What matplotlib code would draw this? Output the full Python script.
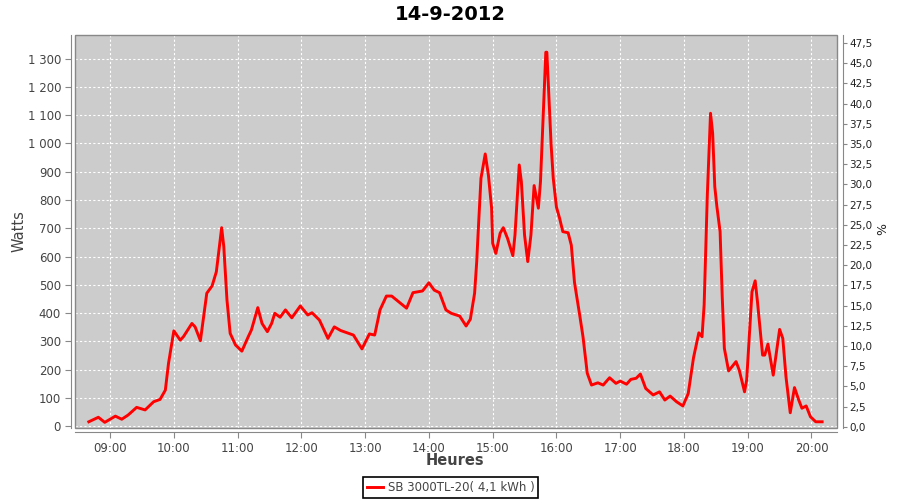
#Production journaliere onduleur SB 3000TL-20

import matplotlib
matplotlib.use("Agg")
import matplotlib.pyplot as plt
import matplotlib.dates as mdates
from matplotlib.ticker import FuncFormatter, MultipleLocator
from matplotlib.patches import Rectangle
import pandas as pd

#Donnees

jour = "2012-09-14"
titre = "14-9-2012"
serie = "SB 3000TL-20( 4,1 kWh )"

heures = ["08:40", "08:49", "08:55", "09:05", "09:11", "09:17", "09:25", "09:33",
          "09:41", "09:47", "09:52", "09:55", "10:00", "10:06", "10:09", "10:17",
          "10:20", "10:25", "10:31", "10:36", "10:40", "10:45", "10:47", "10:50",
          "10:53", "10:58", "11:04", "11:10", "11:13", "11:19", "11:23", "11:28",
          "11:32", "11:35", "11:40", "11:45", "11:51", "11:59", "12:06", "12:10",
          "12:17", "12:25", "12:31", "12:37", "12:49", "12:57", "13:04", "13:09",
          "13:14", "13:20", "13:25", "13:39", "13:45", "13:54", "14:00", "14:05",
          "14:10", "14:16", "14:21", "14:29", "14:35", "14:39", "14:43", "14:45",
          "14:46", "14:49", "14:53", "14:56", "14:59", "15:00", "15:03", "15:07",
          "15:10", "15:14", "15:19", "15:21", "15:25", "15:27", "15:30", "15:33",
          "15:36", "15:39", "15:43", "15:45", "15:50", "15:51", "15:55", "15:57",
          "16:00", "16:03", "16:06", "16:11", "16:14", "16:17", "16:22", "16:25",
          "16:29", "16:33", "16:39", "16:44", "16:50", "16:56", "17:00", "17:06",
          "17:10", "17:15", "17:19", "17:24", "17:31", "17:37", "17:42", "17:47",
          "17:53", "17:59", "18:04", "18:09", "18:14", "18:17", "18:19", "18:22",
          "18:25", "18:27", "18:29", "18:31", "18:34", "18:36", "18:38", "18:42",
          "18:49", "18:52", "18:57", "18:59", "19:04", "19:07", "19:09", "19:14",
          "19:16", "19:19", "19:24", "19:30", "19:33", "19:36", "19:40", "19:44",
          "19:48", "19:51", "19:55", "19:59", "20:04", "20:10"]

watts = [15, 31, 13, 35, 24, 39, 66, 57,
         86, 94, 127, 222, 337, 304, 316, 363,
         351, 302, 470, 496, 546, 702, 635, 446,
         328, 287, 265, 316, 340, 419, 363, 334,
         363, 399, 385, 411, 383, 425, 393, 401,
         375, 310, 351, 338, 322, 273, 326, 322,
         411, 460, 460, 417, 472, 478, 507, 481,
         472, 411, 399, 389, 354, 378, 470, 582,
         660, 877, 963, 888, 771, 647, 611, 682,
         702, 664, 603, 676, 924, 865, 676, 582,
         676, 851, 771, 865, 1323, 1323, 995, 877,
         775, 735, 688, 684, 640, 508, 390, 316,
         187, 145, 153, 145, 171, 151, 159, 148,
         165, 169, 184, 133, 110, 121, 92, 106,
         86, 71, 115, 242, 330, 316, 430, 820,
         1107, 1036, 847, 776, 688, 458, 275, 195,
         228, 198, 121, 163, 475, 514, 446, 251,
         251, 290, 180, 342, 310, 174, 47, 136,
         92, 63, 71, 33, 15, 15]

t = pd.to_datetime([jour + " " + h for h in heures])

gris_txt = "#444444"
gris_axe = "#888888"

fig = plt.figure(figsize=(9, 5), dpi=100)
ax = fig.add_axes([75/900, 1-428/500, 762/900, 393/500])
ax.set_facecolor("#cccccc")

ax.plot(t, watts, color="red", lw=2.1, label=serie, solid_joinstyle="round")

ax.set_xlim(pd.Timestamp(jour + " 08:27"), pd.Timestamp(jour + " 20:24"))
ax.set_ylim(-7, 1384)
ax.yaxis.set_major_locator(MultipleLocator(100))
ax.yaxis.set_major_formatter(FuncFormatter(lambda v, p: f"{int(round(v)):,}".replace(",", " ")))
ax.xaxis.set_major_locator(mdates.HourLocator())
ax.xaxis.set_major_formatter(mdates.DateFormatter("%H:%M"))
ax.grid(color="white", ls=(0, (2, 2)), lw=0.8)
ax.set_axisbelow(True)

for s in ["top", "right"]:
    ax.spines[s].set_visible(False)
for s in ["left", "bottom"]:
    ax.spines[s].set_position(("outward", 3))
    ax.spines[s].set_color(gris_axe)
ax.tick_params(direction="out", length=4, color=gris_axe, labelcolor=gris_txt,
               labelsize=8.5, pad=3)
ax.add_patch(Rectangle((0, 0), 1, 1, transform=ax.transAxes, fill=False,
                       ec=gris_axe, lw=1, clip_on=False, zorder=5))

ax.set_ylabel("Watts", fontsize=10.5, color=gris_txt)
ax.yaxis.set_label_coords(-0.064, 0.5)
ax.set_xlabel("Heures", fontsize=10.5, fontweight="bold", color=gris_txt)
ax.xaxis.set_label_coords(0.499, -0.064)

#Axe des pourcentages
ax2 = ax.twinx()
ax2.set_ylim(-0.16, 48.5)
ax2.yaxis.set_major_locator(MultipleLocator(2.5))
ax2.yaxis.set_major_formatter(FuncFormatter(lambda v, p: f"{v:.1f}".replace(".", ",")))
for s in ["top", "left", "bottom"]:
    ax2.spines[s].set_visible(False)
ax2.spines["right"].set_position(("outward", 4))
ax2.spines["right"].set_color(gris_axe)
ax2.tick_params(direction="out", length=3, color=gris_axe, labelcolor="#222222",
                labelsize=7.5, pad=2)
ax2.set_ylabel("%", fontsize=9, color="#222222")
ax2.yaxis.set_label_coords(1.052, 0.506)

fig.text(0.5, 1-14/500, titre, ha="center", va="center", fontsize=14, fontweight="bold")

leg = fig.legend(loc="center", bbox_to_anchor=(450.5/900, 1-487.5/500), fancybox=False,
                 edgecolor="black", framealpha=1, fontsize=8.5, handlelength=1.4,
                 handletextpad=0.4, borderpad=0.3, borderaxespad=0)
leg.get_frame().set_linewidth(1.2)
for txt in leg.get_texts():
    txt.set_color(gris_txt)

fig.savefig("out.png", dpi=100)
